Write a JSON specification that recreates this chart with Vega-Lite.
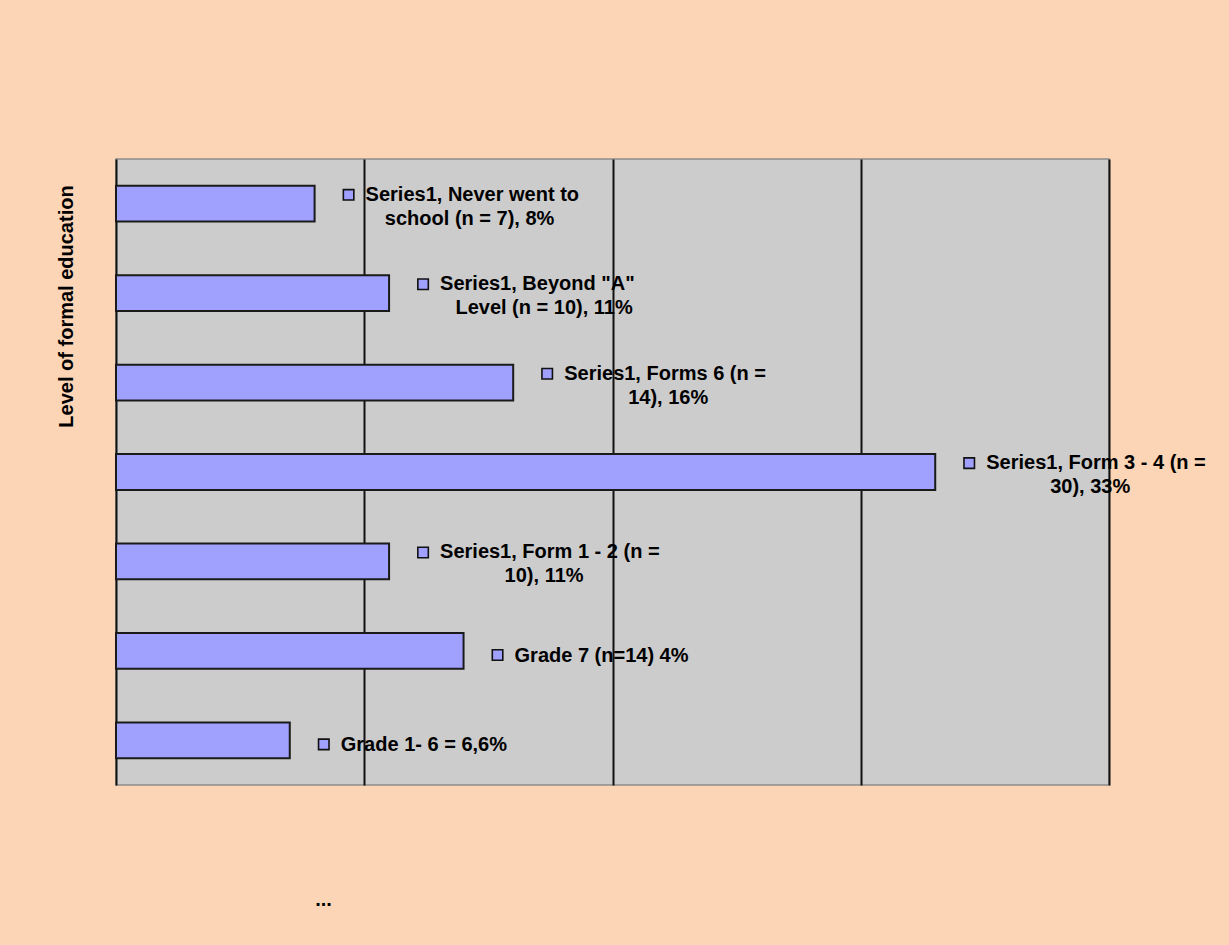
{
  "$schema": "https://vega.github.io/schema/vega-lite/v6.json",
  "width": 993,
  "height": 626,
  "autosize": "none",
  "padding": {"left": 116, "top": 159, "right": 120, "bottom": 160},
  "background": "#FBD5B5",
  "config": {
    "view": {"fill": "#CCCCCC", "stroke": "#8c8c8c", "strokeWidth": 1.5},
    "font": "Liberation Sans"
  },
  "data": {
    "values": [
      {"cat": "Never went to school", "value": 8, "line1": "Series1, Never went to", "line2": "school (n = 7), 8%"},
      {"cat": "Beyond \"A\" Level", "value": 11, "line1": "Series1, Beyond \"A\"", "line2": "Level (n = 10), 11%"},
      {"cat": "Forms 6", "value": 16, "line1": "Series1, Forms 6 (n =", "line2": "14), 16%"},
      {"cat": "Form 3 - 4", "value": 33, "line1": "Series1, Form 3 - 4 (n =", "line2": "30), 33%"},
      {"cat": "Form 1 - 2", "value": 11, "line1": "Series1, Form 1 - 2 (n =", "line2": "10), 11%"},
      {"cat": "Grade 7", "value": 14, "line1": "Grade 7 (n=14) 4%", "line2": ""},
      {"cat": "Grade 1- 6", "value": 7, "line1": "Grade 1- 6 = 6,6%", "line2": ""}
    ]
  },
  "encoding": {
    "y": {
      "field": "cat",
      "type": "nominal",
      "sort": null,
      "scale": {"paddingInner": 0.6, "paddingOuter": 0.3},
      "axis": {
        "labels": false,
        "ticks": false,
        "domain": false,
        "grid": false,
        "title": "Level of formal education",
        "titleFont": "Liberation Sans",
        "titleFontSize": 20,
        "titleFontWeight": "bold",
        "titleColor": "#000000",
        "titleAngle": 270,
        "titleX": -44,
        "titleY": 147,
        "titleAlign": "center",
        "titleBaseline": "alphabetic"
      }
    },
    "x": {
      "field": "value",
      "type": "quantitative",
      "scale": {"domain": [0, 40], "nice": false},
      "axis": {
        "values": [0, 10, 20, 30, 40],
        "grid": true,
        "gridColor": "#111111",
        "gridWidth": 2,
        "gridOpacity": 1,
        "labels": false,
        "ticks": false,
        "domain": false,
        "title": "...",
        "titleFont": "Liberation Sans",
        "titleFontSize": 20,
        "titleFontWeight": "bold",
        "titleColor": "#000000",
        "titleX": 207,
        "titleY": 120,
        "titleAlign": "center",
        "titleBaseline": "alphabetic"
      }
    }
  },
  "layer": [
    {
      "mark": {"type": "bar", "fill": "#A0A0FF", "stroke": "#1a1a1a", "strokeWidth": 2}
    },
    {
      "transform": [{"filter": "datum.line2 != ''"}],
      "mark": {"type": "point", "shape": "square", "filled": true, "fill": "#A0A0FF", "stroke": "#111111", "strokeWidth": 1.6, "size": 110, "opacity": 1},
      "encoding": {"xOffset": {"value": 34}, "yOffset": {"value": 9}}
    },
    {
      "transform": [{"filter": "datum.line2 == ''"}],
      "mark": {"type": "point", "shape": "square", "filled": true, "fill": "#A0A0FF", "stroke": "#111111", "strokeWidth": 1.6, "size": 110, "opacity": 1},
      "encoding": {"xOffset": {"value": 34}, "yOffset": {"value": 22}}
    },
    {
      "transform": [{"filter": "datum.line2 != ''"}],
      "mark": {"type": "text", "align": "left", "baseline": "alphabetic", "dx": 51, "dy": -3, "font": "Liberation Sans", "fontSize": 20, "fontWeight": "bold", "fill": "#000000"},
      "encoding": {"text": {"field": "line1"}}
    },
    {
      "transform": [{"filter": "datum.line2 != ''"}],
      "mark": {"type": "text", "align": "center", "baseline": "alphabetic", "dx": 155, "dy": 21, "font": "Liberation Sans", "fontSize": 20, "fontWeight": "bold", "fill": "#000000"},
      "encoding": {"text": {"field": "line2"}}
    },
    {
      "transform": [{"filter": "datum.line2 == ''"}],
      "mark": {"type": "text", "align": "left", "baseline": "alphabetic", "dx": 51, "dy": 11, "font": "Liberation Sans", "fontSize": 20, "fontWeight": "bold", "fill": "#000000"},
      "encoding": {"text": {"field": "line1"}}
    }
  ]
}
